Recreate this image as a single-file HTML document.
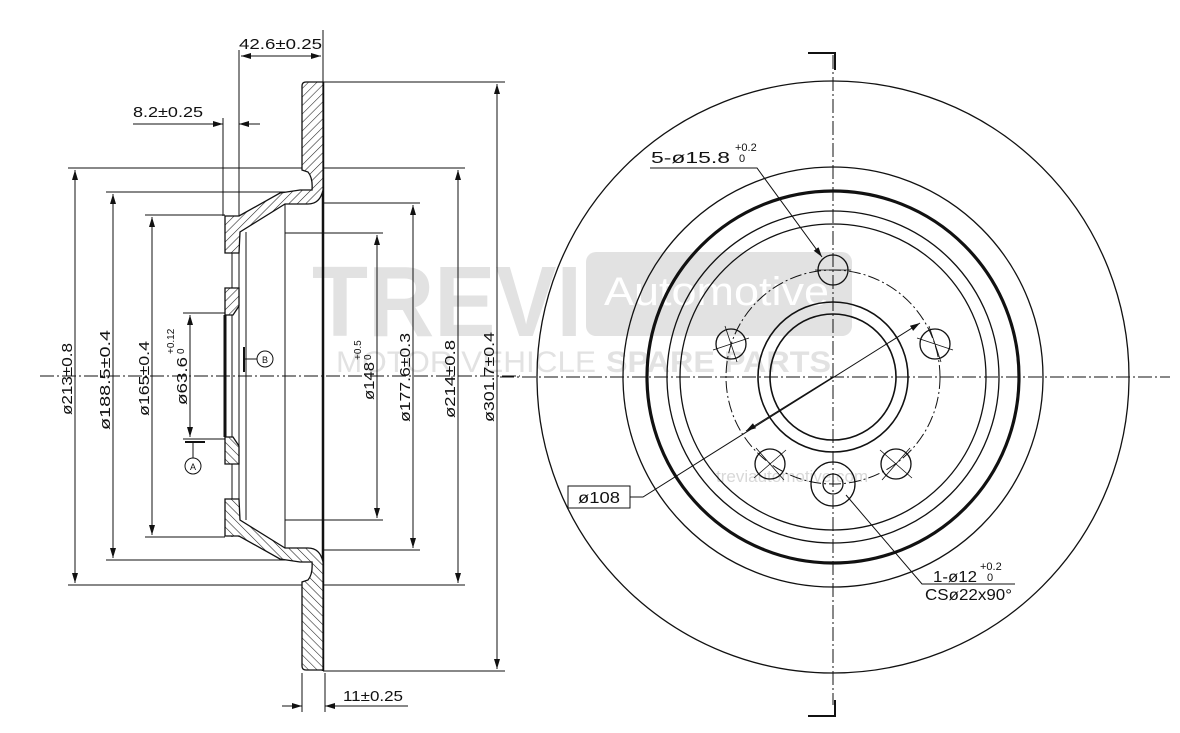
<!DOCTYPE html>
<html><head><meta charset="utf-8"><style>
html,body{margin:0;padding:0;background:#fff;}
svg{display:block;}
text{font-family:"Liberation Sans",sans-serif;fill:#111;}
</style></head><body>
<svg width="1180" height="733" viewBox="0 0 1180 733" xmlns="http://www.w3.org/2000/svg">
<defs>
<pattern id="h" patternUnits="userSpaceOnUse" width="6" height="6" patternTransform="rotate(45)">
<rect width="6" height="6" fill="#fff"/><line x1="0" y1="0" x2="0" y2="6" stroke="#222" stroke-width="1.1"/>
</pattern>
<marker id="a" viewBox="0 0 10 6" refX="10" refY="3" markerWidth="10" markerHeight="6" orient="auto-start-reverse" markerUnits="userSpaceOnUse"><path d="M0,0 L10,3 L0,6 Z" fill="#111"/></marker>
</defs>

<!-- watermark -->
<g fill="#e2e2e2">
<text x="312" y="336" font-size="100" font-weight="bold" style="fill:#e2e2e2" textLength="270" lengthAdjust="spacingAndGlyphs">TREVI</text>
<rect x="586" y="252" width="266" height="84" rx="10"/>
<text x="336" y="372" font-size="30" style="fill:#e2e2e2" textLength="260" lengthAdjust="spacingAndGlyphs">MOTOR VEHICLE</text>
<text x="606" y="372" font-size="30" font-weight="bold" style="fill:#e2e2e2" textLength="225" lengthAdjust="spacingAndGlyphs">SPARE PARTS</text>
<text x="716" y="482" font-size="17" style="fill:#d8d8d8">treviautomotive.com</text>
</g>
<text x="604" y="305" font-size="40" style="fill:#fff" textLength="225" lengthAdjust="spacingAndGlyphs">Automotive</text>

<!-- LEFT SECTION -->
<g stroke="#111" fill="none" stroke-width="1">
<line x1="68" y1="168" x2="302" y2="168"/><line x1="68" y1="585" x2="302" y2="585"/>
<line x1="106" y1="192" x2="300" y2="192"/><line x1="106" y1="560" x2="300" y2="560"/>
<line x1="145" y1="215" x2="225" y2="215"/><line x1="145" y1="537" x2="225" y2="537"/>
<line x1="183" y1="313" x2="225" y2="313"/><line x1="183" y1="439" x2="225" y2="439"/>
<line x1="285" y1="233" x2="383" y2="233"/><line x1="285" y1="520" x2="383" y2="520"/>
<line x1="323" y1="203" x2="420" y2="203"/><line x1="323" y1="550" x2="420" y2="550"/>
<line x1="323" y1="168" x2="465" y2="168"/><line x1="323" y1="585" x2="465" y2="585"/>
<line x1="323" y1="82" x2="505" y2="82"/><line x1="323" y1="671" x2="505" y2="671"/>
<line x1="75" y1="170" x2="75" y2="583" marker-start="url(#a)" marker-end="url(#a)"/>
<line x1="113" y1="194" x2="113" y2="558" marker-start="url(#a)" marker-end="url(#a)"/>
<line x1="152" y1="217" x2="152" y2="535" marker-start="url(#a)" marker-end="url(#a)"/>
<line x1="190" y1="315" x2="190" y2="437" marker-start="url(#a)" marker-end="url(#a)"/>
<line x1="377" y1="235" x2="377" y2="518" marker-start="url(#a)" marker-end="url(#a)"/>
<line x1="413" y1="205" x2="413" y2="548" marker-start="url(#a)" marker-end="url(#a)"/>
<line x1="458" y1="170" x2="458" y2="583" marker-start="url(#a)" marker-end="url(#a)"/>
<line x1="497" y1="84" x2="497" y2="669" marker-start="url(#a)" marker-end="url(#a)"/>
<line x1="239" y1="50" x2="239" y2="216"/><line x1="323" y1="30" x2="323" y2="82"/>
<line x1="241" y1="56" x2="321" y2="56" marker-start="url(#a)" marker-end="url(#a)"/>
<line x1="223" y1="118" x2="223" y2="216"/>
<line x1="133" y1="124" x2="223" y2="124" marker-end="url(#a)"/>
<line x1="260" y1="124" x2="239" y2="124" marker-end="url(#a)"/>
<line x1="302" y1="673" x2="302" y2="712"/><line x1="325" y1="673" x2="325" y2="712"/>
<line x1="282" y1="706" x2="302" y2="706" marker-end="url(#a)"/>
<line x1="345" y1="706" x2="325" y2="706" marker-end="url(#a)"/>
<line x1="325" y1="706" x2="408" y2="706"/>
<line x1="40" y1="376" x2="520" y2="376" stroke-dasharray="14,3,2,3"/>
<line x1="285" y1="204" x2="285" y2="548"/>
<line x1="246" y1="232" x2="246" y2="520"/>
<line x1="232" y1="216" x2="232" y2="537"/>
<line x1="239" y1="216" x2="239" y2="537"/>
<line x1="225" y1="315" x2="225" y2="437" stroke-width="3"/>
<line x1="323" y1="82" x2="323" y2="671" stroke-width="2.5"/>
<line x1="244" y1="347" x2="244" y2="372" stroke-width="2"/>
<line x1="244" y1="359" x2="257" y2="359"/>
<circle cx="265" cy="359" r="8"/>
<line x1="185" y1="442" x2="205" y2="442" stroke-width="2"/>
<line x1="193" y1="442" x2="193" y2="458"/>
<circle cx="193" cy="466" r="8"/>
</g>
<text x="262" y="363" font-size="9">B</text>
<text x="190" y="470" font-size="9">A</text>
<g id="half" stroke="#111" stroke-width="1.3" fill="url(#h)">
<path d="M302,86 Q302,82 306,82 L323,82 L323,190 Q320,204 308,204 L285,204 L240,232 L239,253 L225,253 L225,216 L239,216 L280,193 L300,190 L312,190 Q313,178 308,172 L302,170 Z"/>
<path d="M225,288 L239,288 L239,306 L233,315 L225,315 Z"/>
</g>
<use href="#half" transform="translate(0,752) scale(1,-1)"/>

<g font-size="15">
<text x="239" y="49" textLength="83" lengthAdjust="spacingAndGlyphs">42.6±0.25</text>
<text x="133" y="117" textLength="70" lengthAdjust="spacingAndGlyphs">8.2±0.25</text>
<text x="343" y="701" textLength="60" lengthAdjust="spacingAndGlyphs">11±0.25</text>
<text transform="translate(72,415) rotate(-90)" textLength="72" lengthAdjust="spacingAndGlyphs">ø213±0.8</text>
<text transform="translate(110,430) rotate(-90)" textLength="100" lengthAdjust="spacingAndGlyphs">ø188.5±0.4</text>
<text transform="translate(149,416) rotate(-90)" textLength="75" lengthAdjust="spacingAndGlyphs">ø165±0.4</text>
<text transform="translate(187,405) rotate(-90)" textLength="48" lengthAdjust="spacingAndGlyphs">ø63.6</text>
<text transform="translate(174,354) rotate(-90)" font-size="10">+0.12</text>
<text transform="translate(184,354) rotate(-90)" font-size="10">0</text>
<text transform="translate(374,400) rotate(-90)" textLength="38" lengthAdjust="spacingAndGlyphs">ø148</text>
<text transform="translate(361,360) rotate(-90)" font-size="10">+0.5</text>
<text transform="translate(371,360) rotate(-90)" font-size="10">0</text>
<text transform="translate(410,422) rotate(-90)" textLength="89" lengthAdjust="spacingAndGlyphs">ø177.6±0.3</text>
<text transform="translate(455,418) rotate(-90)" textLength="78" lengthAdjust="spacingAndGlyphs">ø214±0.8</text>
<text transform="translate(494,422) rotate(-90)" textLength="90" lengthAdjust="spacingAndGlyphs">ø301.7±0.4</text>
</g>

<!-- RIGHT VIEW -->
<g stroke="#111" fill="none" stroke-width="1.3">
<circle cx="833" cy="377" r="296"/>
<circle cx="833" cy="377" r="210"/>
<circle cx="833" cy="377" r="186" stroke-width="3.2"/>
<circle cx="833" cy="377" r="166"/>
<circle cx="833" cy="377" r="153"/>
<circle cx="833" cy="377" r="75" stroke-width="1.6"/>
<circle cx="833" cy="377" r="63" stroke-width="1.6"/>
<circle cx="833" cy="377" r="107" stroke-width="1" stroke-dasharray="12,3,2,3"/>
<circle cx="833" cy="270" r="15"/>
<circle cx="935" cy="344" r="15"/>
<circle cx="731" cy="344" r="15"/>
<circle cx="896" cy="464" r="15"/>
<circle cx="770" cy="464" r="15"/>
<circle cx="833" cy="484" r="22"/>
<circle cx="833" cy="484" r="10"/>
</g>
<g stroke="#111" fill="none" stroke-width="1">
<line x1="833" y1="55" x2="833" y2="705" stroke-dasharray="14,3,2,3"/>
<line x1="500" y1="377" x2="1170" y2="377" stroke-dasharray="14,3,2,3"/>
<g stroke-width="0.8">
<line x1="917" y1="338" x2="953" y2="350"/><line x1="929" y1="326" x2="941" y2="362"/>
<line x1="713" y1="350" x2="749" y2="338"/><line x1="725" y1="326" x2="737" y2="362"/>
<line x1="880" y1="450" x2="912" y2="478"/><line x1="910" y1="448" x2="882" y2="480"/>
<line x1="754" y1="478" x2="786" y2="450"/><line x1="756" y1="448" x2="784" y2="480"/>
<line x1="815" y1="270" x2="851" y2="270"/>
</g>
<polyline points="808,53 835,53 835,70" stroke-width="2"/>
<polyline points="808,716 835,716 835,700" stroke-width="2"/>
<polyline points="650,168 757,168 822,257" marker-end="url(#a)"/>
<polyline points="630,497 643,497 920,323" marker-end="url(#a)"/>
<line x1="833" y1="377" x2="746" y2="431" marker-end="url(#a)"/>
<polyline points="1015,584 922,584 846,495"/>
<rect x="568" y="486" width="62" height="22"/>
</g>
<g font-size="16">
<text x="651" y="163" textLength="79" lengthAdjust="spacingAndGlyphs">5-ø15.8</text>
<text x="735" y="151" font-size="11">+0.2</text>
<text x="739" y="162" font-size="11">0</text>
<text x="578" y="503" textLength="42" lengthAdjust="spacingAndGlyphs">ø108</text>
<text x="933" y="582" textLength="44" lengthAdjust="spacingAndGlyphs">1-ø12</text>
<text x="980" y="570" font-size="11">+0.2</text>
<text x="987" y="581" font-size="11">0</text>
<text x="925" y="600" textLength="87" lengthAdjust="spacingAndGlyphs">CSø22x90°</text>
</g>
</svg>
</body></html>
